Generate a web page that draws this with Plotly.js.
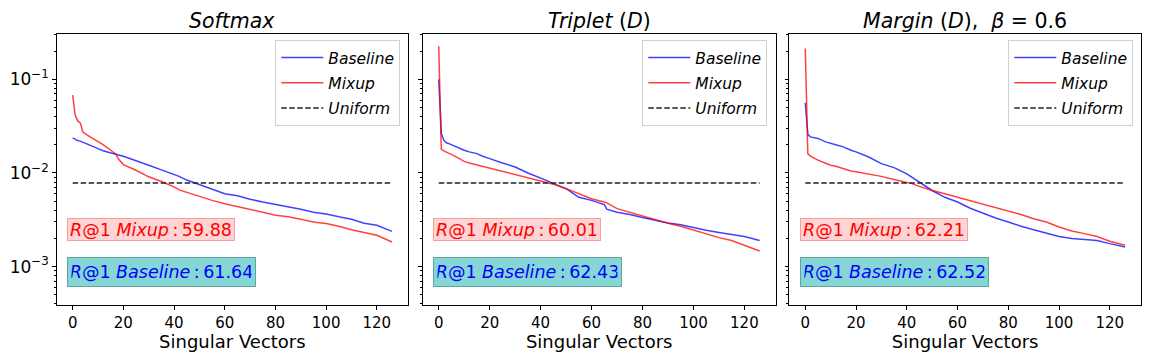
<!DOCTYPE html>
<html>
<head>
<meta charset="utf-8">
<script src="https://cdn.plot.ly/plotly-3.0.1.min.js"></script>
<style>
  html, body { margin: 0; padding: 0; background: #fff; }
  #chart { width: 1152px; height: 360px; }
</style>
</head>
<body>
<div id="chart"></div>
<script>
// Singular vector index (shared by all panels)
const xs = [0, 1, 2, 3, 4, 5, 8, 10, 12, 15, 17, 18, 20, 25, 30, 35, 40, 42, 45, 50,
            55, 60, 65, 66, 70, 75, 80, 85, 90, 95, 100, 105, 110, 115, 120, 126];

// Softmax panel
const softmaxBaseline = [0.0237, 0.0228, 0.0222, 0.0219, 0.0213, 0.0205, 0.0192, 0.0182, 0.0173, 0.0163,
                         0.0158, 0.0156, 0.0151, 0.0136, 0.0121, 0.0108, 0.0096, 0.0092, 0.0084, 0.0075,
                         0.0068, 0.0060, 0.0057, 0.0056, 0.00524, 0.0049, 0.00463, 0.0043, 0.0041, 0.0038,
                         0.00365, 0.0034, 0.0032, 0.0029, 0.00276, 0.00238];
const softmaxMixup = [0.0678, 0.0414, 0.036, 0.0343, 0.0275, 0.0262, 0.0233, 0.0218, 0.0201, 0.0175,
                      0.0160, 0.0142, 0.0123, 0.0107, 0.0091, 0.0081, 0.0071, 0.0066, 0.0062, 0.0056,
                      0.0051, 0.0047, 0.0044, 0.0043, 0.0041, 0.0038, 0.00353, 0.0034, 0.0032, 0.0030,
                      0.00288, 0.0027, 0.00248, 0.0023, 0.00216, 0.00183];

// Triplet (D) panel
const tripletBaseline = [0.1, 0.0264, 0.0224, 0.0210, 0.0206, 0.0200, 0.0185, 0.0175, 0.0168, 0.0161,
                         0.0152, 0.0148, 0.01425, 0.0128, 0.0116, 0.0100, 0.0089, 0.0084, 0.0077, 0.0068,
                         0.0055, 0.0051, 0.0046, 0.0041, 0.0038, 0.0036, 0.00334, 0.0031, 0.00292, 0.0028,
                         0.0026, 0.00245, 0.00232, 0.0022, 0.0021, 0.0019];
const tripletMixup = [0.226, 0.0179, 0.0172, 0.0166, 0.0162, 0.0158, 0.0142, 0.0133, 0.0128, 0.0122,
                      0.0119, 0.0116, 0.0113, 0.0104, 0.0097, 0.0089, 0.0082, 0.0080, 0.0076, 0.0068,
                      0.0060, 0.0053, 0.0049, 0.0048, 0.00416, 0.0038, 0.00353, 0.0032, 0.0029, 0.0027,
                      0.00246, 0.0022, 0.00204, 0.0019, 0.00169, 0.00147];

// Margin (D), beta = 0.6 panel
const marginBaseline = [0.0561, 0.026, 0.0243, 0.024, 0.0237, 0.0234, 0.0215, 0.0206, 0.0200, 0.019,
                        0.0178, 0.0175, 0.0168, 0.0148, 0.0126, 0.0114, 0.0098, 0.0090, 0.0080, 0.0065,
                        0.0055, 0.0049, 0.0042, 0.0041, 0.0037, 0.0033, 0.0030, 0.0027, 0.00248, 0.0023,
                        0.0021, 0.0020, 0.00194, 0.0019, 0.00176, 0.00162];
const marginMixup = [0.214, 0.0161, 0.0151, 0.0146, 0.0141, 0.0137, 0.0127, 0.0121, 0.0118, 0.0111,
                     0.0107, 0.0105, 0.0103, 0.0097, 0.0092, 0.0085, 0.0079, 0.0077, 0.0072, 0.0065,
                     0.0060, 0.0055, 0.0051, 0.0050, 0.0047, 0.0043, 0.0039, 0.0036, 0.00325, 0.0030,
                     0.00265, 0.0024, 0.00225, 0.0021, 0.00187, 0.00169];

// Uniform reference level (1/128)
const uniformX = [0, 126];
const uniformY = [0.0078125, 0.0078125];

const panelTitles = ['<i>Softmax</i>', '<i>Triplet</i> (<i>D</i>)', '<i>Margin</i> (<i>D</i>),  <i>β</i> = 0.6'];
const recallMixup = ['59.88', '60.01', '62.21'];
const recallBaseline = ['61.64', '62.43', '62.52'];
const xTickVals = [0, 20, 40, 60, 80, 100, 120];
const yTickVals = [0.001, 0.01, 0.1];
const yTickText = ['10<sup>−3</sup>', '10<sup>−2</sup>', '10<sup>−1</sup>'];

const panels = [
  { base: softmaxBaseline, mix: softmaxMixup },
  { base: tripletBaseline, mix: tripletMixup },
  { base: marginBaseline, mix: marginMixup }
];

// Pixel geometry of the three plot areas
const W = 1152, H = 360;
const boxes = [[56.7, 408], [422.7, 775.7], [789.3, 1141]];
const plotTop = 34, plotBottom = 305;
const legendRight = [400.3, 767.3, 1133.3];
const annLeft = [66.7, 433.3, 800];

// minor ticks on log axis
const minorVals = [];
for (let d = -4; d <= -1; d++) {
  for (let k = 2; k <= 9; k++) minorVals.push(k * Math.pow(10, d));
}

const FONT = 'DejaVu Sans, sans-serif';
const BLUE = 'rgba(0,0,255,0.75)';
const RED = 'rgba(255,0,0,0.75)';
const SEP = '\u2009:\u2009';

const traces = [];
const layout = {
  width: W, height: H,
  margin: { l: 0, r: 0, t: 0, b: 0 },
  paper_bgcolor: '#fff', plot_bgcolor: '#fff',
  font: { family: FONT, color: '#000' },
  showlegend: true,
  annotations: []
};

panels.forEach((p, i) => {
  const n = i === 0 ? '' : String(i + 1);
  const xa = 'x' + n, ya = 'y' + n;
  const leg = 'legend' + n;
  traces.push(
    { x: xs, y: p.base, xaxis: xa, yaxis: ya, type: 'scatter', mode: 'lines', name: '<i>Baseline</i>',
      legend: leg, legendgroup: 'b' + i, line: { color: BLUE, width: 1.5 } },
    { x: xs, y: p.mix, xaxis: xa, yaxis: ya, type: 'scatter', mode: 'lines', name: '<i>Mixup</i>',
      legend: leg, legendgroup: 'm' + i, line: { color: RED, width: 1.5 } },
    { x: uniformX, y: uniformY, xaxis: xa, yaxis: ya, type: 'scatter', mode: 'lines', name: '<i>Uniform</i>',
      legend: leg, legendgroup: 'u' + i, line: { color: '#222', width: 1.5, dash: '5.5px,2.5px' } }
  );

  layout['xaxis' + n] = {
    domain: [boxes[i][0] / W, boxes[i][1] / W],
    anchor: ya,
    range: [-6.3, 132.3],
    tickmode: 'array', tickvals: xTickVals,
    ticks: 'outside', ticklen: 3.5, tickcolor: '#000',
    tickfont: { size: 15, family: FONT },
    showgrid: false, zeroline: false,
    showline: true, mirror: true, linecolor: '#000', linewidth: 1,
    title: { text: 'Singular Vectors', font: { size: 18, family: FONT }, standoff: 4 }
  };
  layout['yaxis' + n] = {
    domain: [1 - plotBottom / H, 1 - plotTop / H],
    anchor: xa,
    type: 'log',
    range: [-3.41, -0.5155],
    tickmode: 'array', tickvals: yTickVals, ticktext: yTickText,
    showticklabels: i === 0,
    ticks: 'outside', ticklen: 3.5, tickcolor: '#000',
    tickfont: { size: 17, family: FONT },
    minor: { tickmode: 'array', tickvals: minorVals, ticks: 'outside', ticklen: 2, tickcolor: '#000', showgrid: false },
    showgrid: false, zeroline: false,
    showline: true, mirror: true, linecolor: '#000', linewidth: 1
  };
  layout[leg] = {
    x: legendRight[i] / W, xanchor: 'right', xref: 'paper',
    y: 1 - 40 / H, yanchor: 'top', yref: 'paper',
    bgcolor: 'rgba(255,255,255,0.9)', bordercolor: '#d0d0d0', borderwidth: 1,
    font: { size: 15.5, family: FONT, color: '#000' },
    traceorder: 'grouped', tracegroupgap: 2, itemwidth: 42
  };

  const cx = (boxes[i][0] + boxes[i][1]) / 2 / W;
  layout.annotations.push(
    { xref: 'paper', yref: 'paper', x: cx, y: 1 - 20.5 / H, xanchor: 'center', yanchor: 'middle',
      text: panelTitles[i], showarrow: false, font: { size: 20.5, family: FONT, color: '#000' } },
    { xref: 'paper', yref: 'paper', x: annLeft[i] / W, y: 1 - 229.5 / H, xanchor: 'left', yanchor: 'middle',
      text: '<i>R</i>@1 <i>Mixup</i>' + SEP + recallMixup[i], showarrow: false,
      font: { size: 17.5, family: FONT, color: '#ff0000' },
      width: 164, height: 19, align: 'center', valign: 'middle',
      bgcolor: '#ffd4d4', bordercolor: '#ff9a9a', borderwidth: 1, borderpad: 1 },
    { xref: 'paper', yref: 'paper', x: annLeft[i] / W, y: 1 - 271.7 / H, xanchor: 'left', yanchor: 'middle',
      text: '<i>R</i>@1 <i>Baseline</i>' + SEP + recallBaseline[i], showarrow: false,
      font: { size: 17.5, family: FONT, color: '#0000ff' },
      width: 180, height: 21, align: 'center', valign: 'middle',
      bgcolor: '#86d6d6', bordercolor: '#5fa3a3', borderwidth: 1, borderpad: 3.5 }
  );
});

Plotly.newPlot('chart', traces, layout, { staticPlot: true });
</script>
</body>
</html>
